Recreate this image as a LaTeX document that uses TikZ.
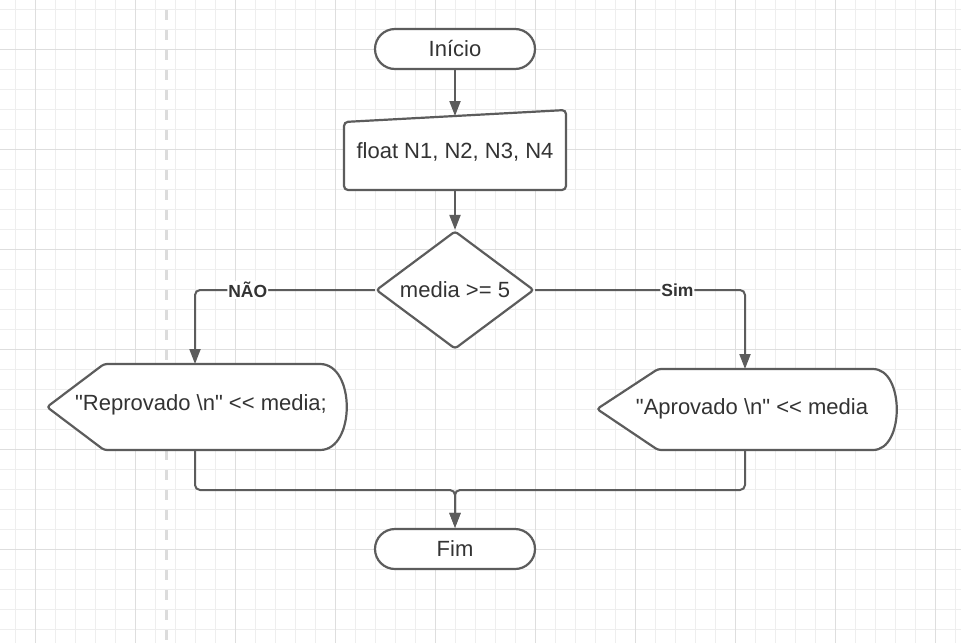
\documentclass[tikz,border=0pt]{standalone}
\usepackage{fontspec}
\setmainfont{Liberation Sans}[Ligatures=TeXOff]
\usetikzlibrary{shapes.geometric,shapes.misc,arrows.meta}
\definecolor{ln}{HTML}{5C5C5C}
\definecolor{tx}{HTML}{333333}
\definecolor{gmin}{HTML}{EEEEEE}
\definecolor{gmaj}{HTML}{DEDEDE}
\definecolor{dsh}{HTML}{DCDCDC}
\begin{document}
\begin{tikzpicture}[x=1pt,y=-1pt,
  shapeline/.style={draw=ln, line width=2.2pt, fill=white},
  txt/.style={font=\fontsize{22}{25}\selectfont, text=tx, inner sep=0pt},
  term/.style={shapeline, txt, rounded rectangle, minimum width=160pt, minimum height=40pt},
  decision/.style={shapeline, txt, diamond, aspect=1.34, minimum width=158pt, minimum height=118pt, rounded corners=3pt},
  conn/.style={draw=ln, line width=2pt, rounded corners=5pt},
  arr/.style={conn, -{Triangle[length=15pt, width=11pt]}},
  lbl/.style={font=\fontsize{17.5}{20}\selectfont\bfseries, text=tx, fill=white, inner sep=1pt}
]
\fill[white] (0,0) rectangle (961,643);
\useasboundingbox (0,0) rectangle (961,643);
% grid
\foreach \x in {15,35,...,955} \draw[gmin, line width=1pt] (\x,0) -- (\x,643);
\foreach \y in {9,29,...,629} \draw[gmin, line width=1pt] (0,\y) -- (961,\y);
\foreach \x in {35,135,...,935} \draw[gmaj, line width=1pt] (\x,0) -- (\x,643);
\foreach \y in {49,149,...,549} \draw[gmaj, line width=1pt] (0,\y) -- (961,\y);
\draw[dsh, line width=3pt, dash pattern=on 10pt off 10pt] (166,10) -- (166,643);

% shapes
\node[term] (inicio) at (455,49) {Início};
\draw[shapeline, rounded corners=4pt] (344,122) -- (566,110) -- (566,190) -- (344,190) -- cycle;
\node[txt] (input) at (455,152) {float N1, N2, N3, N4};
\coordinate (intop) at (455,116);
\coordinate (inbot) at (455,190);

\node[decision] (dec) at (455,290) {media >= 5};

\draw[shapeline, rounded corners=3pt] (47,407) -- (104,364) -- (317,364)
  .. controls (355.7,364) and (355.7,450) .. (317,450) -- (104,450) -- cycle;
\node[txt] (rep) at (201,405) {"Reprovado \textbackslash n" << media;};
\coordinate (reptop) at (195,364);
\coordinate (repbot) at (195,450);

\draw[shapeline, rounded corners=3pt] (597,409) -- (658,369) -- (870,369)
  .. controls (904.7,369) and (904.7,450) .. (870,450) -- (658,450) -- cycle;
\node[txt] (apr) at (752,409) {"Aprovado \textbackslash n" << media};
\coordinate (aprtop) at (745,369);
\coordinate (aprbot) at (745,450);

\node[term] (fim) at (455,549) {Fim};
\coordinate (merge) at (455,490);

% connectors
\draw[arr] (inicio.south) -- (intop);
\draw[arr] (inbot) -- (dec.north);
\draw[arr] (dec.west) -- node[lbl, pos=0.707] {NÃO} (dec.west -| reptop) -- (reptop);
\draw[arr] (dec.east) -- node[lbl, pos=0.678] {Sim} (dec.east -| aprtop) -- (aprtop);
\draw[arr] (repbot) -- (repbot |- merge) -- (merge) -- (fim.north);
\draw[arr] (aprbot) -- (aprbot |- merge) -- (merge) -- (fim.north);
\end{tikzpicture}
\end{document}
